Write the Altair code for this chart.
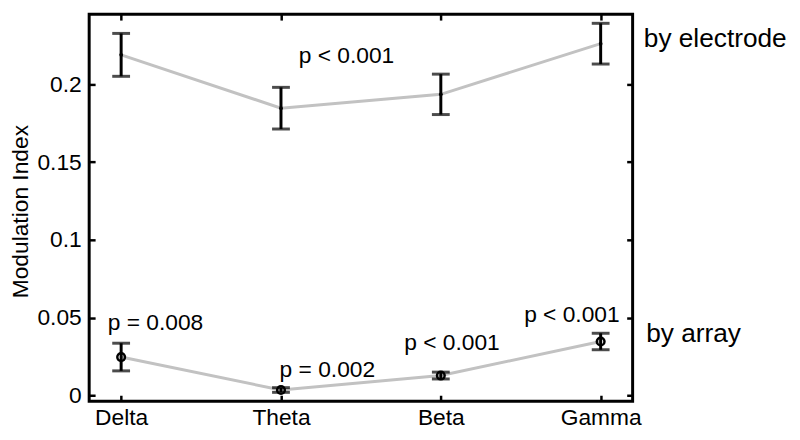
import json
import altair as alt
import pandas as pd

FONT = "Liberation Sans"

# ---- data ----
bands = ["Delta", "Theta", "Beta", "Gamma"]
band_pos = [1, 2, 3, 4]

electrode_mean = [0.219, 0.1847, 0.1936, 0.2262]
electrode_err = [0.0138, 0.0134, 0.013, 0.0131]

array_mean = [0.0246, 0.0034, 0.0127, 0.0346]
array_err = [0.0089, 0.0015, 0.0022, 0.0053]

y_ticks = [0, 0.05, 0.1, 0.15, 0.2]

ann_text = ["p < 0.001", "p = 0.008", "p = 0.002", "p < 0.001", "p < 0.001"]
ann_x = [2.41, 1.215, 2.29, 3.07, 3.82]
ann_y = [0.2185, 0.0465, 0.016, 0.0338, 0.0516]

side_text = ["by electrode", "by array"]
side_x = [4.27, 4.285]
side_y = [0.2293, 0.0395]

# ---- tables ----
rows = []
for grp, means, errs in (("electrode", electrode_mean, electrode_err),
                         ("array", array_mean, array_err)):
    for b, p, m, e in zip(bands, band_pos, means, errs):
        rows.append(dict(group=grp, band=b, x=p, mean=m, lo=m - e, hi=m + e))
df = pd.DataFrame(rows)

caps = pd.concat([
    df[["group", "x", "lo"]].rename(columns={"lo": "y"}),
    df[["group", "x", "hi"]].rename(columns={"hi": "y"}),
])

ann = pd.DataFrame(dict(text=ann_text, x=ann_x, y=ann_y))
side = pd.DataFrame(dict(text=side_text, x=side_x, y=side_y))

W, H = 549, 391
xscale = alt.Scale(domain=[0.8, 4.2], nice=False, zero=False)
yscale = alt.Scale(domain=[-0.0038, 0.2452], nice=False, zero=False)

label_expr = json.dumps(bands) + "[datum.value - 1]"

x_main = alt.X("x:Q", scale=xscale, axis=alt.Axis(
    values=band_pos, labelExpr=label_expr, ticks=False, domain=False, grid=False,
    title=None, labelFontSize=23, labelPadding=6, labelColor="black", labelFont=FONT))
y_main = alt.Y("mean:Q", scale=yscale, axis=alt.Axis(
    values=y_ticks, format="~g", ticks=False, domain=False, grid=False,
    title="Modulation Index", titleFontSize=23, titleFontWeight="normal",
    titleFont=FONT, titleColor="black", titleX=-62, titleY=199,
    titleAngle=-90, titleAlign="center", titleBaseline="alphabetic",
    labelFontSize=23, labelPadding=8, labelColor="black", labelFont=FONT))


def xq(field="x"):
    return alt.X(f"{field}:Q", scale=xscale, axis=None)


def yq(field):
    return alt.Y(f"{field}:Q", scale=yscale, axis=None)


def tick_axis(orient, offset, values):
    return alt.Axis(orient=orient, offset=offset, values=values, labels=False,
                    domain=False, grid=False, ticks=True, tickSize=6,
                    tickWidth=2.5, tickColor="black", title=None)


base = alt.Chart(df)

lines = base.mark_line(color="#c2c2c2", strokeWidth=3).encode(
    x=x_main, y=y_main, detail="group:N")

bars = base.mark_rule(color="black", strokeWidth=3).encode(
    x=xq(), y=yq("lo"), y2="hi:Q")

cap_marks = alt.Chart(caps).mark_tick(color="black", thickness=3, size=18,
                                      orient="horizontal").encode(
    x=xq(), y=yq("y"))

elec_pts = base.transform_filter("datum.group == 'electrode'").mark_point(
    filled=True, color="black", size=14, opacity=1).encode(x=xq(), y=yq("mean"))

arr_pts = base.transform_filter("datum.group == 'array'").mark_point(
    filled=False, shape="circle", color="black", strokeWidth=2.5, size=60,
    opacity=1).encode(x=xq(), y=yq("mean"))

ann_marks = alt.Chart(ann).mark_text(font=FONT, fontSize=23, color="black",
                                     align="center", baseline="middle").encode(
    x=xq(), y=yq("y"), text="text:N")

side_marks = alt.Chart(side).mark_text(font=FONT, fontSize=26.5, color="black",
                                       align="left", baseline="middle").encode(
    x=xq(), y=yq("y"), text="text:N")

ghost1 = base.mark_point(opacity=0).encode(
    x=alt.X("x:Q", scale=xscale, axis=tick_axis("top", -H, band_pos)),
    y=alt.Y("mean:Q", scale=yscale, axis=tick_axis("right", -W, y_ticks)))

ghost2 = base.mark_point(opacity=0).encode(
    x=alt.X("x:Q", scale=xscale, axis=tick_axis("bottom", -H, band_pos)),
    y=alt.Y("mean:Q", scale=yscale, axis=tick_axis("left", -W, y_ticks)))

chart = alt.layer(
    lines, ghost1, ghost2, bars, cap_marks, elec_pts, arr_pts, ann_marks, side_marks
).resolve_axis(x="independent", y="independent").properties(
    width=W, height=H,
    padding={"left": 82, "top": 4, "right": 161, "bottom": 37},
    autosize=alt.AutoSizeParams(type="none"),
    background="white",
).configure_view(stroke="black", strokeWidth=3)

chart.save("out.html", embed_options={"renderer": "svg", "actions": False})
